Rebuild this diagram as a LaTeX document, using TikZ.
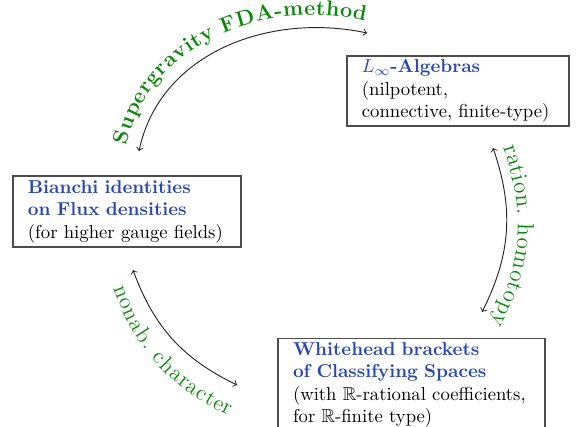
\documentclass[tikz,border=0pt]{standalone}
\usepackage{amssymb}
\usetikzlibrary{decorations.text}
\definecolor{nodeblue}{RGB}{40,70,180}
\definecolor{lblgreen}{RGB}{10,135,10}
\begin{document}
\begin{tikzpicture}[x=0.535pt,y=0.535pt,
  box/.style={draw=black!70, line width=0.6pt, align=left, inner xsep=8pt, inner ysep=2pt},
  conn/.style={<->, draw=black!85, line width=0.5pt}]
\useasboundingbox (0,0) rectangle (583,426);

\node[box, text width=106pt, minimum height=38pt] (bianchi) at (127,214.5)
  {\textcolor{nodeblue}{\bfseries Bianchi identities}\\
   \textcolor{nodeblue}{\bfseries on Flux densities}\\
   (for higher gauge fields)};
\node[box, text width=102.8pt, minimum height=37.5pt] (linf) at (458,335)
  {\textcolor{nodeblue}{$L_\infty$\bfseries -Algebras}\\
   (nilpotent,\\
   connective, finite-type)};
\node[box, text width=126.8pt, minimum height=50pt] (white) at (411.5,41)
  {\textcolor{nodeblue}{\bfseries Whitehead brackets}\\
   \textcolor{nodeblue}{\bfseries of Classifying Spaces}\\
   (with $\mathbb{R}$-rational coefficients,\\
   for $\mathbb{R}$-finite type)};

\coordinate (s1) at (139,275); \coordinate (e1) at (367,393);
\coordinate (s2) at (493,278); \coordinate (e2) at (482,114);
\coordinate (s3) at (133,156); \coordinate (e3) at (237,41);

\draw[conn] (s1) to[out=78,in=168] (e1);
\path[decorate, decoration={text along path, text align=center, raise=5pt,
  text color=lblgreen, text={|\fontsize{11.5}{13}\selectfont\bfseries|Supergravity FDA-method}}]
  ([shift={(-3,3)}]s1) to[out=78,in=168] ([shift={(-3,3)}]e1);

\draw[conn] (s2) to[bend left=23] (e2);
\path[decorate, decoration={text along path, text align=center, raise=6pt,
  text color=lblgreen, text={|\fontsize{12.5}{14}\selectfont|ration. homotopy}}]
  ([shift={(0,-5)}]s2) to[bend left=23] ([shift={(0,-5)}]e2);

\draw[conn] (s3) to[bend right=22] (e3);
\path[decorate, decoration={text along path, text align=center, raise=-11pt,
  text color=lblgreen, text={|\large|nonab. character}}]
  ([shift={(0,-12)}]s3) to[bend right=22] ([shift={(0,-12)}]e3);
\end{tikzpicture}
\end{document}
